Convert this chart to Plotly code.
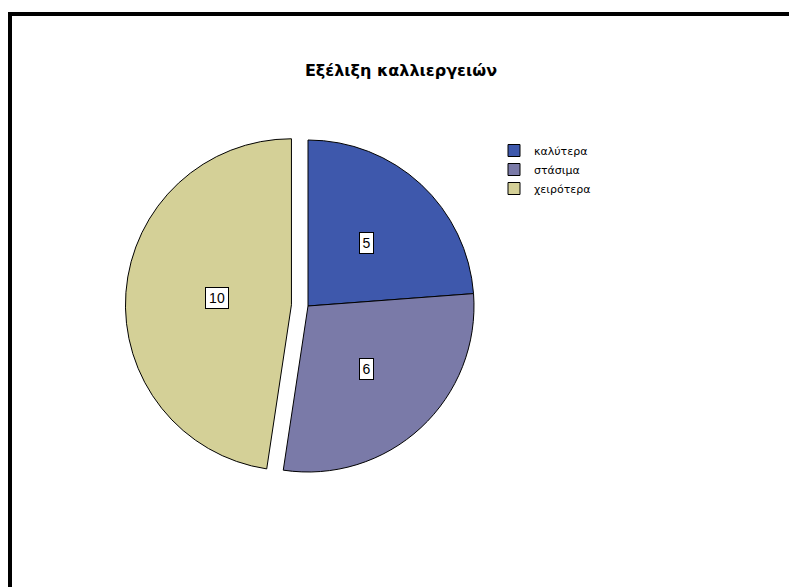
import math
import plotly.graph_objects as go

categories = ["καλύτερα", "στάσιμα", "χειρότερα"]
values = [5, 6, 10]
pulls = [0, 0, 0.1]
colors = ["#3e58ac", "#7a7aa8", "#d4d097"]

W, H = 789, 587
cx_px, cy_px = 308, 306
r_px = 166
half = r_px * 1.1
dom_x = [(cx_px - half) / W, (cx_px + half) / W]
dom_y = [1 - (cy_px + half) / H, 1 - (cy_px - half) / H]

fig = go.Figure()
fig.add_trace(go.Pie(
    labels=categories, values=values, pull=pulls, sort=False,
    direction="clockwise", rotation=0,
    marker=dict(colors=colors, line=dict(color="black", width=1)),
    textinfo="none", hoverinfo="label+value",
    domain=dict(x=dom_x, y=dom_y),
))

# value labels in boxes, positioned from slice angles
total = sum(values)
start = 0.0
for v, p in zip(values, pulls):
    ang = start + v / total * 360 / 2
    start += v / total * 360
    a = math.radians(ang)
    rr = r_px * (0.52 + p)
    x = cx_px + rr * math.sin(a)
    y = cy_px - rr * math.cos(a)
    txt = str(v)
    fig.add_annotation(
        x=x / W, y=1 - y / H, xref="paper", yref="paper",
        text=txt, showarrow=False,
        font=dict(family="Liberation Sans, Arial", size=14, color="black"),
        bgcolor="white", bordercolor="black", borderwidth=1, borderpad=1,
        width=9 * len(txt) + 2, height=18,
    )

# frame lines
fig.add_shape(type="line", xref="paper", yref="paper",
              x0=8 / W, x1=1, y0=1 - 14 / H, y1=1 - 14 / H,
              line=dict(color="black", width=4))
fig.add_shape(type="line", xref="paper", yref="paper",
              x0=10 / W, x1=10 / W, y0=1 - 12 / H, y1=0,
              line=dict(color="black", width=4))

fig.update_layout(
    width=W, height=H,
    margin=dict(l=0, r=0, t=0, b=0),
    paper_bgcolor="white", plot_bgcolor="white",
    title=dict(text="<b>Εξέλιξη καλλιεργειών</b>", x=401 / W, xanchor="center",
               y=1 - 70 / H, yanchor="middle",
               font=dict(family="DejaVu Sans", size=16, color="black")),
    legend=dict(x=494 / W, y=1 - 136 / H, xanchor="left", yanchor="top",
                font=dict(family="DejaVu Sans", size=11, color="black"),
                bgcolor="rgba(0,0,0,0)", tracegroupgap=0, itemwidth=30),
    showlegend=True,
)

fig.write_html("out.html", config={"displayModeBar": False},
               post_script="document.body.style.margin='0';document.body.style.overflow='hidden';")
